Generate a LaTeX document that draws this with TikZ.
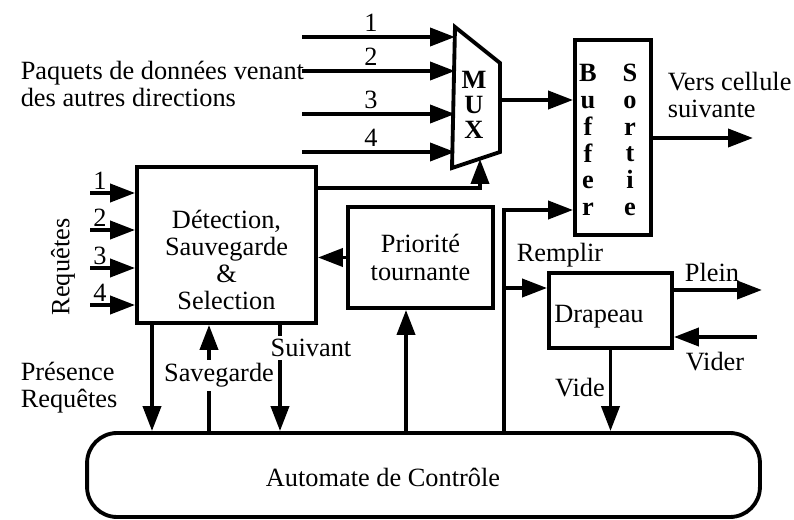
\documentclass[tikz,border=0pt]{standalone}
\usepackage{fontspec}
\setmainfont{Liberation Serif}
\usepackage{tikz}
\usetikzlibrary{arrows.meta, positioning, calc}

\begin{document}
\begin{tikzpicture}[x=0.02cm, y=-0.02cm, line width=2.2pt,
  font=\fontsize{15}{15.5}\selectfont,
  box/.style={draw, inner sep=0pt},
  arr/.style={-{Triangle[length=0.5cm, width=0.36cm]}},
  cut/.style={fill=white, inner sep=2pt},
  stack/.style={align=center, font=\fontsize{15}{#1}\selectfont\bfseries}]
  \useasboundingbox (0,0) rectangle (794,520);

  % blocs
  \node[box, minimum width=3.58cm, minimum height=3.12cm] (det) at (226.5,245) {};
  \node[align=center] (dettxt) at ($(det)+(0,15)$) {Détection,\\Sauvegarde\\\&\\Selection};
  \node[box, minimum width=2.9cm, minimum height=2.02cm, align=center] (prio) at (420.5,257.5) {Priorité\\tournante};
  \node[box, minimum width=1.52cm, minimum height=3.9cm] (buf) at (613,137.5) {};
  \node[stack=15.25pt] (bufl) at (588,140) {B\\u\\f\\f\\e\\r};
  \node[stack=15.25pt] (bufr) at (630,140) {S\\o\\r\\t\\i\\e};
  \node[box, minimum width=2.46cm, minimum height=1.5cm] (drap) at (610.5,310.5) {};
  \node (draptxt) at (599,317) {Drapeau};
  \node[box, rounded corners=0.6cm, minimum width=13.46cm, minimum height=1.68cm] (ctrl) at (423.5,475) {};
  \node (ctrltxt) at (383,477) {Automate de Contrôle};

  % multiplexeur
  \coordinate (m1) at (455,27);
  \coordinate (m2) at (500,63);
  \coordinate (m3) at (500,152);
  \coordinate (m4) at (452,168);
  \draw (m1) -- (m2) -- (m3) -- (m4) -- cycle;
  \node[stack=14.2pt] (mux) at (474,105) {M\\U\\X};

  % entrees de donnees
  \node[align=left, anchor=west] (paq) at (13,84) {Paquets de données venant\\des autres directions};
  \foreach \i/\y in {1/37, 2/71, 3/114, 4/152} {
    \coordinate (d\i) at (302,\y);
    \draw[arr] (d\i) -- (d\i -| m1) node[pos=0.45, above, inner sep=2pt] {\i};
  }
  \coordinate (mo) at (500,100);
  \draw[arr] (mo) -- (mo -| buf.west);
  \coordinate (out) at (753,138);
  \draw[arr] (out -| buf.east) -- (out);
  \node[align=left, anchor=west] (vers) at (660,95) {Vers cellule\\suivante};

  % requetes
  \node[rotate=90] (req) at (63,267) {Requêtes};
  \foreach \i/\y in {1/193, 2/230, 3/268, 4/305} {
    \coordinate (r\i) at (90,\y);
    \draw[arr] (r\i) -- (r\i -| det.west) node[pos=0.22, above, inner sep=1pt] {\i};
  }
  \coordinate (muxin) at (480,159);
  \draw[arr] ([yshift=-0.46cm]det.north east) -| (muxin);
  \draw[arr] (prio.west) -- (prio.west -| det.east);
  \coordinate (pin) at ([xshift=-0.29cm]prio.south);
  \draw[arr] (pin |- ctrl.north) -- (pin);

  % remplir / drapeau
  \coordinate (rp) at (504,210);
  \coordinate (rq) at (504,288);
  \draw[arr] (rp |- ctrl.north) -- (rp) -- (rp -| buf.west);
  \draw[arr] (rq) -- (rq -| drap.west);
  \node (rempl) at (560,255) {Remplir};
  \coordinate (pl) at (762,290);
  \draw[arr] (pl -| drap.east) -- (pl);
  \node (plein) at (712,272) {Plein};
  \coordinate (vd) at (757,337);
  \draw[arr] (vd) -- (vd -| drap.east);
  \node (vider) at (715,362) {Vider};
  \draw[arr] (drap.south) -- (drap.south |- ctrl.north);
  \node (vide) at (580,388) {Vide};

  % liaisons vers l'automate
  \coordinate (xpr) at (152,0);
  \coordinate (xsv) at (209,0);
  \coordinate (xsu) at (280,0);
  \draw[arr] (det.south -| xpr) -- (ctrl.north -| xpr);
  \draw[arr] (ctrl.north -| xsv) -- (det.south -| xsv);
  \draw[arr] (det.south -| xsu) -- (ctrl.north -| xsu);
  \node[cut] (sav) at (219,375) {Savegarde};
  \node[cut] (sui) at (311,348) {Suivant};
  \node[align=left, anchor=west] (pres) at (13,388) {Présence\\Requêtes};
\end{tikzpicture}
\end{document}
